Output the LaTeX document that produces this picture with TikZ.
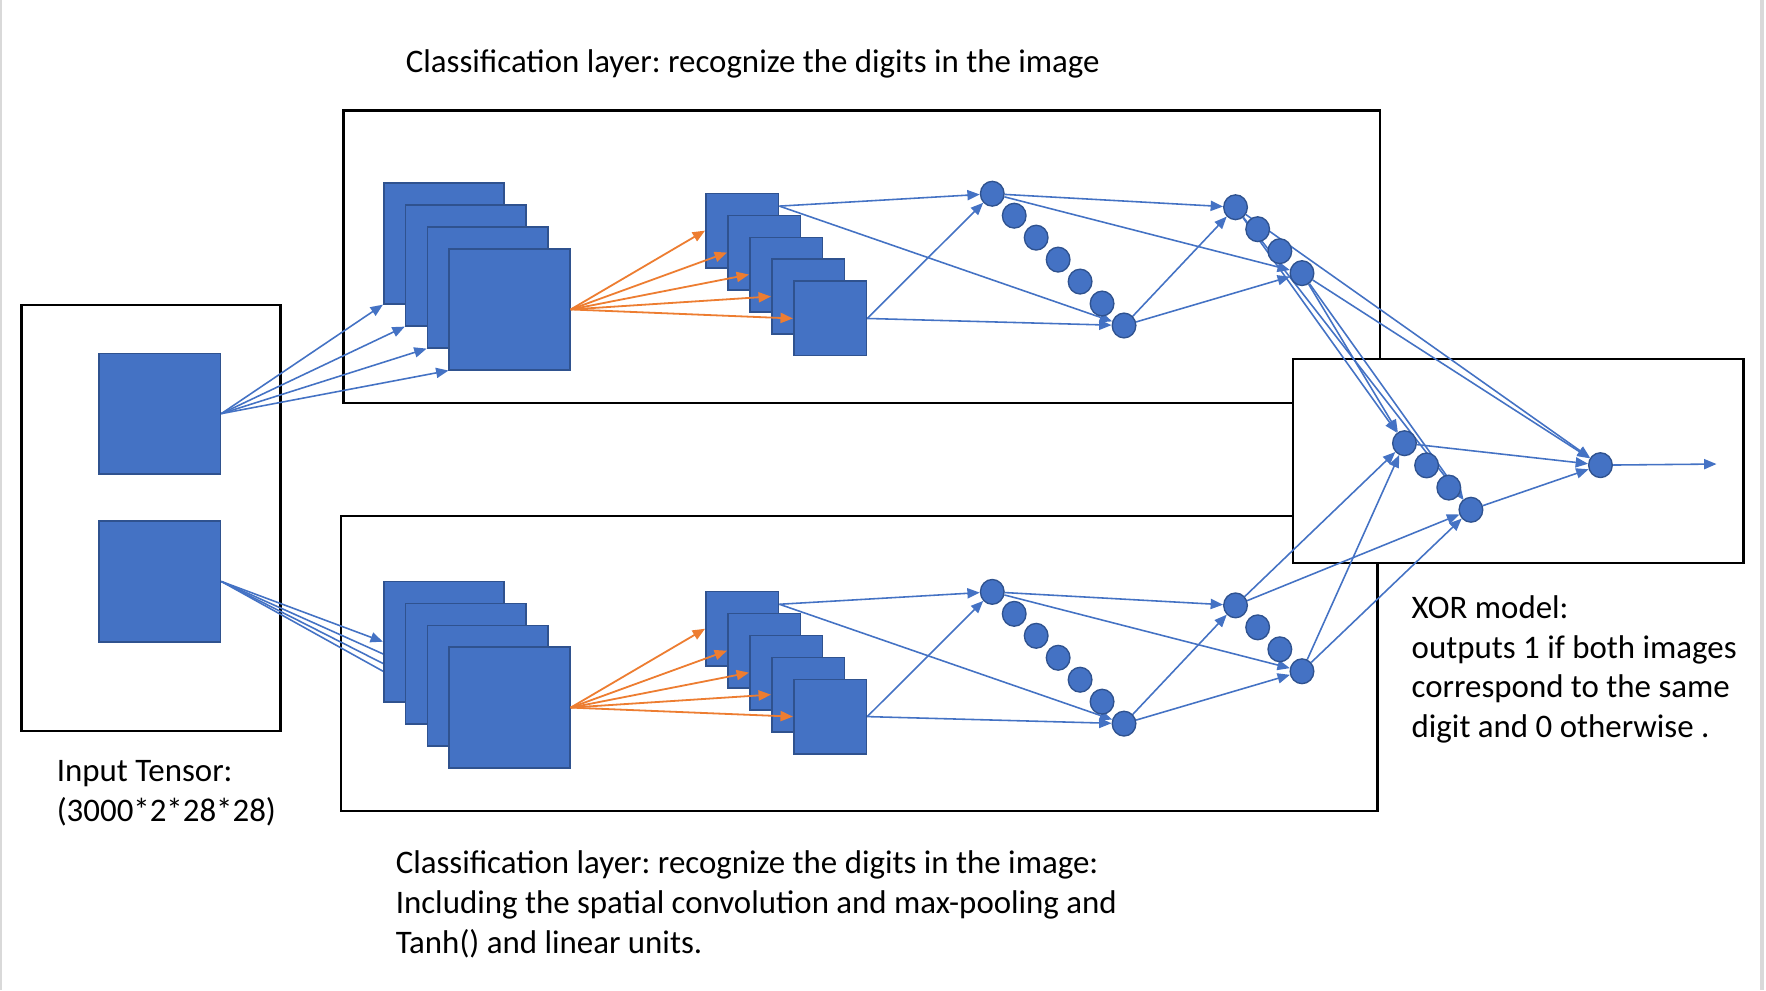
\documentclass[tikz,border=0pt]{standalone}
\usepackage{fontspec}
\setmainfont{Carlito}
\usetikzlibrary{arrows.meta,calc,shapes.geometric}
\definecolor{bfill}{HTML}{4472C4}
\definecolor{bedge}{HTML}{2F528F}
\definecolor{borange}{HTML}{ED7D31}
\definecolor{pageedge}{HTML}{D9D9D9}
\pgfdeclarelayer{bg}
\pgfdeclarelayer{edges}
\pgfsetlayers{bg,edges,main}
\frenchspacing
\begin{document}
\begin{tikzpicture}[x=0.5pt,y=-0.5pt,
 frame/.style={draw=black,line width=1pt,inner sep=0pt,anchor=north west},
 sq/.style={draw=bedge,fill=bfill,line width=0.75pt,inner sep=0pt,anchor=north west},
 bigsq/.style={sq,minimum width=53.5pt,minimum height=53.5pt},
 smallsq/.style={sq,minimum width=32.25pt,minimum height=33pt},
 neuron/.style={ellipse,draw=bedge,fill=bfill,line width=0.6pt,inner sep=0pt,minimum width=10.5pt,minimum height=11pt},
 conn/.style={draw=bfill,line width=0.7pt,-{Triangle[length=5.5pt,width=4.5pt]}},
 oconn/.style={draw=borange,line width=0.8pt,-{Triangle[length=5.5pt,width=4.5pt]}},
 lbl/.style={font=\fontsize{14.6}{17.5}\selectfont,anchor=base west,inner sep=0pt}
]
\useasboundingbox (0,0) rectangle (1568,879);

% frames
\begin{pgfonlayer}{bg}
\fill[white] (0,0) rectangle (1568,879);
\draw[pageedge,line width=1pt] (1,0) -- (1,879);
\draw[pageedge,line width=1.5pt] (1564.5,0) -- (1564.5,879);
\node[frame,minimum width=115pt,minimum height=189pt] (inbox) at (18,270) {};
\node[frame,minimum width=460pt,minimum height=130pt] (topbox) at (304,97) {};
\node[frame,minimum width=460pt,minimum height=131pt] (botbox) at (302,457) {};
\node[frame,fill=white,minimum width=200pt,minimum height=90.5pt] (xorbox) at (1147,318) {};
\end{pgfonlayer}

% input images
\node[sq,minimum width=54pt,minimum height=53.5pt] (in1) at (87,313) {};
\node[sq,minimum width=54pt,minimum height=53.5pt] (in2) at (87,462) {};

% convolution stacks
\foreach \i in {1,...,4} {
  \node[bigsq] (ta\i) at ({340+19.4*(\i-1)},{162+19.5*(\i-1)}) {};
}
\foreach \i in {1,...,4} {
  \node[bigsq] (ba\i) at ({340+19.4*(\i-1)},{515.5+19.5*(\i-1)}) {};
}
\foreach \i in {1,...,5} {
  \node[smallsq] (tb\i) at ({626+19.5*(\i-1)},{171+19.5*(\i-1)}) {};
  \node[smallsq] (bb\i) at ({626+19.5*(\i-1)},{524.5+19.5*(\i-1)}) {};
}

% neurons
\foreach \i in {1,...,7} {
  \node[neuron] (tc\i) at ({881+19.5*(\i-1)},{172+19.5*(\i-1)}) {};
  \node[neuron] (bc\i) at ({881+19.5*(\i-1)},{525.5+19.5*(\i-1)}) {};
}
\foreach \i in {1,...,4} {
  \node[neuron] (td\i) at ({1097+19.67*(\i-1)},{184+19.5*(\i-1)}) {};
  \node[neuron] (bd\i) at ({1097+19.67*(\i-1)},{537.5+19.5*(\i-1)}) {};
  \node[neuron] (xh\i) at ({1247+19.67*(\i-1)},{393.5+19.7*(\i-1)}) {};
}
\node[neuron] (out) at (1421,413) {};
\coordinate (outend) at (1524,412);

\coordinate (tb1o) at ($(tb1.north east)+(0,12)$);
\coordinate (bb1o) at ($(bb1.north east)+(0,12)$);

% connectors under the nodes
\begin{pgfonlayer}{edges}
\foreach \i in {1,2,3,4} { \draw[conn] (in2.east) -- (ba\i.west); }
\foreach \g in {t,b} {
  \draw[conn] (\g b1o) -- (\g c1);
  \draw[conn] (\g b1o) -- (\g c7);
  \draw[conn] (\g b5.east) -- (\g c1);
  \draw[conn] (\g b5.east) -- (\g c7);
  \draw[conn] (\g c1) -- (\g d1);
  \draw[conn] (\g c1) -- (\g d4);
  \draw[conn] (\g c7) -- (\g d1);
  \draw[conn] (\g c7) -- (\g d4);
  \draw[conn] (\g d1) -- (xh1);
  \draw[conn] (\g d1) -- (xh4);
  \draw[conn] (\g d4) -- (xh1);
  \draw[conn] (\g d4) -- (xh4);
}
\draw[conn] (td1) -- (out);
\draw[conn] (td4) -- (out);
\draw[conn] (xh1) -- (out);
\draw[conn] (xh4) -- (out);
\draw[conn] (out) -- (outend);
\end{pgfonlayer}

% connectors over the nodes
\foreach \i in {1,...,4} { \draw[conn] (in1.east) -- (ta\i.south west); }
\foreach \i in {1,...,5} {
  \draw[oconn] (ta4.east) -- (tb\i.west);
  \draw[oconn] (ba4.east) -- (bb\i.west);
}

% texts
\node[lbl] (title) at (360,64.5) {Classification layer: recognize the digits in the image};
\node[lbl] (inA) at (50,694) {Input Tensor:};
\node[lbl] (inB) at (50,729) {(3000*2*28*28)};
\node[lbl] (botA) at (351,775.5) {Classification layer: recognize the digits in the image:};
\node[lbl] (botB) at (351,811.5) {Including the spatial convolution and max-pooling and};
\node[lbl] (botC) at (351,846.5) {Tanh() and linear units.};
\node[lbl] (xorA) at (1253,549.5) {XOR model:};
\node[lbl] (xorB) at (1253,584.5) {outputs 1 if both images};
\node[lbl] (xorC) at (1253,619.5) {correspond to the same};
\node[lbl] (xorD) at (1253,654.5) {digit and 0 otherwise .};
\end{tikzpicture}
\end{document}
